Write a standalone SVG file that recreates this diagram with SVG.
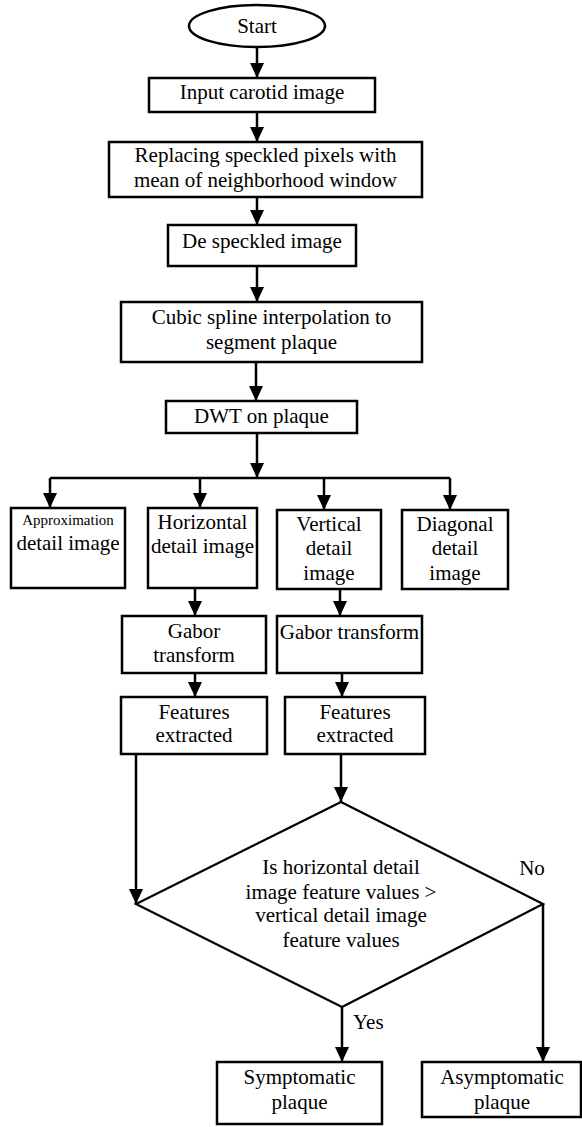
<svg xmlns="http://www.w3.org/2000/svg" width="582" height="1127" viewBox="0 0 582 1127">
<style>
.box{fill:#fff;stroke:#000;stroke-width:2.5}
.dia{fill:none;stroke:#000;stroke-width:2.2}
.con{fill:none;stroke:#000;stroke-width:2.5}
text{font-family:"Liberation Serif","DejaVu Serif",serif;font-size:21px;fill:#000;text-anchor:middle}
.sm{font-size:15px}
.lb{text-anchor:start}
</style>
<defs>
<marker id="ah" markerUnits="userSpaceOnUse" markerWidth="15" markerHeight="14" refX="15" refY="7" orient="auto" viewBox="0 0 15 14">
<path d="M0,0 L15,7 L0,14 Z" fill="#000"/>
</marker>
</defs>
<g id="n-start"><ellipse cx="257" cy="26" rx="68" ry="21" class="box"/><text x="257" y="33">Start</text></g>
<g id="n-input"><rect class="box" x="149" y="78" width="226" height="34"/><text x="262" y="99">Input carotid image</text></g>
<g id="n-replace"><rect class="box" x="109" y="142" width="313" height="55"/><text x="265.5" y="162">Replacing speckled pixels with</text><text x="265.5" y="187">mean of neighborhood window</text></g>
<g id="n-despeckled"><rect class="box" x="168" y="225" width="188" height="41"/><text x="262" y="248">De speckled image</text></g>
<g id="n-cubic"><rect class="box" x="121" y="302" width="301" height="60"/><text x="271.5" y="324">Cubic spline interpolation to</text><text x="271.5" y="349">segment plaque</text></g>
<g id="n-dwt"><rect class="box" x="166" y="401" width="191" height="32"/><text x="261.5" y="423">DWT on plaque</text></g>
<g id="n-approx"><rect class="box" x="11" y="508" width="114" height="80"/><text class="sm" x="68" y="525">Approximation</text><text x="68" y="550">detail image</text></g>
<g id="n-horiz"><rect class="box" x="148" y="508" width="109" height="80"/><text x="202.5" y="529">Horizontal</text><text x="202.5" y="553">detail image</text></g>
<g id="n-vert"><rect class="box" x="277" y="510" width="104" height="79"/><text x="329" y="531">Vertical</text><text x="329" y="555">detail</text><text x="329" y="580">image</text></g>
<g id="n-diag"><rect class="box" x="402" y="510" width="106" height="79"/><text x="455" y="531">Diagonal</text><text x="455" y="555">detail</text><text x="455" y="580">image</text></g>
<g id="n-gabor1"><rect class="box" x="122" y="616" width="144" height="57"/><text x="194" y="638">Gabor</text><text x="194" y="662">transform</text></g>
<g id="n-gabor2"><rect class="box" x="277" y="616" width="145" height="57"/><text x="349.5" y="639">Gabor transform</text></g>
<g id="n-feat1"><rect class="box" x="121" y="697" width="146" height="57"/><text x="194" y="719">Features</text><text x="194" y="742">extracted</text></g>
<g id="n-feat2"><rect class="box" x="285" y="697" width="140" height="57"/><text x="355" y="719">Features</text><text x="355" y="742">extracted</text></g>
<g id="n-decision"><path class="dia" d="M341,802 L543,904 L342,1007 L136,904 Z"/><text x="341" y="874">Is horizontal detail</text><text x="341" y="899">image feature values &gt;</text><text x="341" y="922">vertical detail image</text><text x="341" y="947">feature values</text></g>
<g id="n-sympt"><rect class="box" x="217" y="1062" width="165" height="62"/><text x="299.5" y="1084">Symptomatic</text><text x="299.5" y="1109">plaque</text></g>
<g id="n-asympt"><rect class="box" x="422" y="1062" width="159" height="55"/><text x="502" y="1084">Asymptomatic</text><text x="502" y="1109">plaque</text></g>
<g id="connectors">
<path class="con" d="M257,47 V78" marker-end="url(#ah)"/>
<path class="con" d="M257,112 V142" marker-end="url(#ah)"/>
<path class="con" d="M257,197 V225" marker-end="url(#ah)"/>
<path class="con" d="M257,266 V302" marker-end="url(#ah)"/>
<path class="con" d="M256,362 V401" marker-end="url(#ah)"/>
<path class="con" d="M257,433 V478" marker-end="url(#ah)"/>
<path class="con" d="M50,478 H450"/>
<path class="con" d="M50,478 V508" marker-end="url(#ah)"/>
<path class="con" d="M200,478 V508" marker-end="url(#ah)"/>
<path class="con" d="M324,478 V510" marker-end="url(#ah)"/>
<path class="con" d="M450,478 V510" marker-end="url(#ah)"/>
<path class="con" d="M195,588 V616" marker-end="url(#ah)"/>
<path class="con" d="M340,589 V616" marker-end="url(#ah)"/>
<path class="con" d="M195,673 V697" marker-end="url(#ah)"/>
<path class="con" d="M342,673 V697" marker-end="url(#ah)"/>
<path class="con" d="M341,754 V802" marker-end="url(#ah)"/>
<path class="con" d="M136,754 V904" marker-end="url(#ah)"/>
<path class="con" d="M342,1007 V1062" marker-end="url(#ah)"/>
<path class="con" d="M543,904 V1062" marker-end="url(#ah)"/>
<text class="lb" x="353" y="1029">Yes</text>
<text x="532" y="875">No</text>
</g>
</svg>
